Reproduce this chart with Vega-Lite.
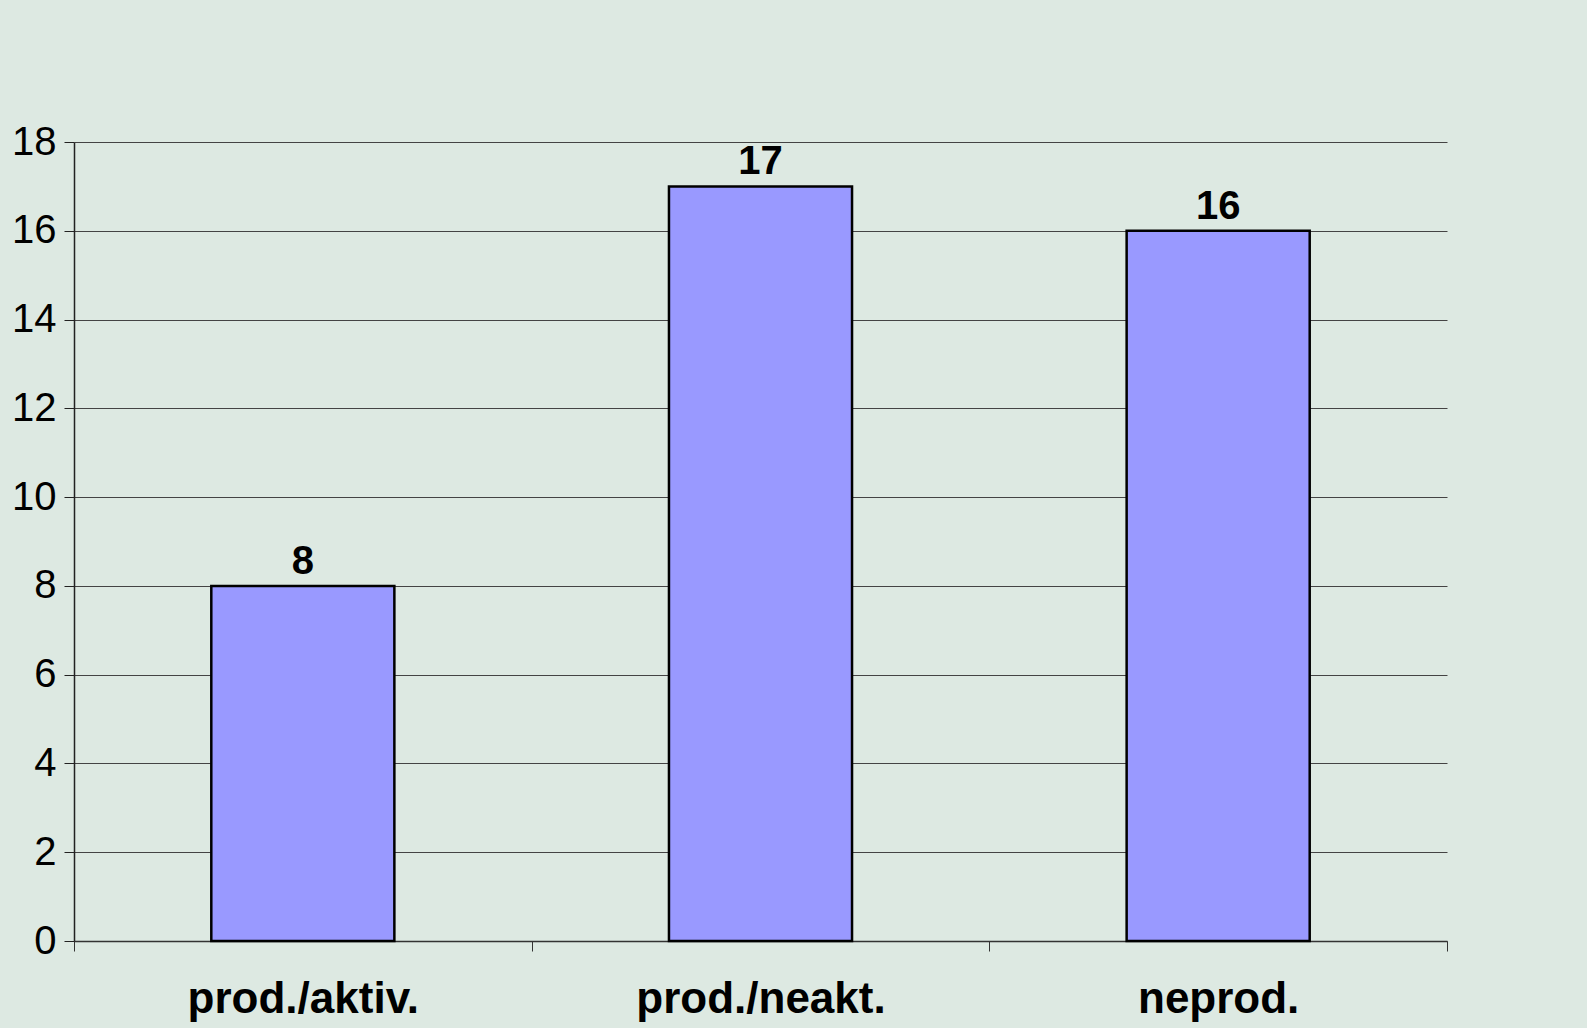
{
  "$schema": "https://vega.github.io/schema/vega-lite/v6.json",
  "autosize": "none",
  "width": 1373,
  "height": 799,
  "padding": {"left": 74, "top": 142, "right": 140, "bottom": 87},
  "background": "#dde9e2",
  "config": {
    "view": {"stroke": null},
    "font": "Liberation Sans"
  },
  "data": {
    "values": [
      {"kategorie": "prod./aktiv.", "pocet": 8},
      {"kategorie": "prod./neakt.", "pocet": 17},
      {"kategorie": "neprod.", "pocet": 16}
    ]
  },
  "encoding": {
    "x": {
      "field": "kategorie",
      "type": "nominal",
      "sort": null,
      "scale": {"paddingInner": 0, "paddingOuter": 0},
      "axis": {
        "title": null,
        "labelAngle": 0,
        "labelLimit": 0,
        "labelFont": "Liberation Sans",
        "labelFontSize": 44,
        "labelFontWeight": "bold",
        "labelColor": "#000000",
        "labelPadding": 26,
        "tickBand": "extent",
        "tickSize": 10,
        "tickColor": "#333333",
        "domainColor": "#333333",
        "domainWidth": 1.5,
        "grid": false
      }
    },
    "y": {
      "field": "pocet",
      "type": "quantitative",
      "scale": {"domain": [0, 18], "nice": false},
      "axis": {
        "title": null,
        "values": [0, 2, 4, 6, 8, 10, 12, 14, 16, 18],
        "labelFont": "Liberation Sans",
        "labelFontSize": 40,
        "labelColor": "#000000",
        "labelPadding": 8,
        "tickSize": 10,
        "tickColor": "#222222",
        "domainColor": "#222222",
        "domainWidth": 1.5,
        "grid": true,
        "gridColor": "#444444",
        "gridWidth": 1
      }
    }
  },
  "layer": [
    {
      "mark": {"type": "bar", "width": {"band": 0.4}, "color": "#9999ff", "stroke": "#000000", "strokeWidth": 2.5}
    },
    {
      "mark": {"type": "text", "dy": -24, "fontSize": 40, "fontWeight": "bold", "color": "#000000", "font": "Liberation Sans"},
      "encoding": {"text": {"field": "pocet", "type": "quantitative"}}
    }
  ]
}
